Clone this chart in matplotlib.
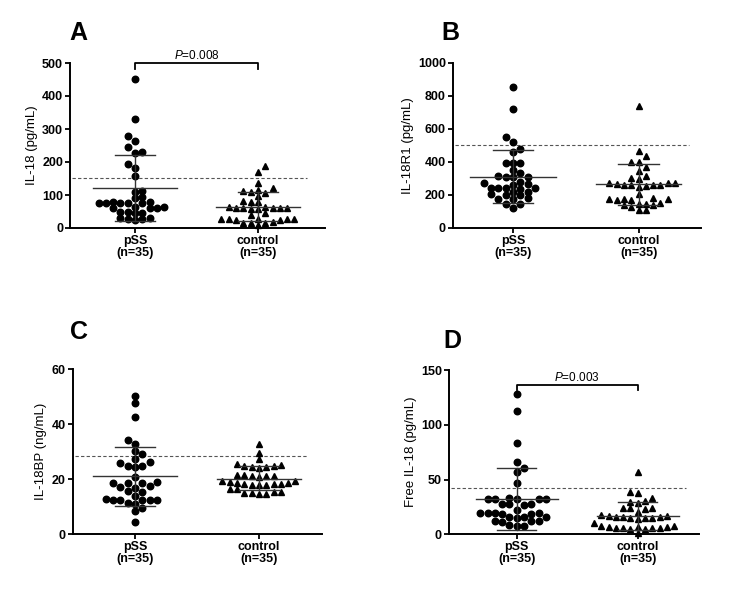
import numpy as np
import matplotlib.pyplot as plt

plt.rcParams['font.family'] = ['Liberation Sans', 'DejaVu Sans']
plt.rcParams['mathtext.fontset'] = 'custom'
plt.rcParams['mathtext.it'] = 'Liberation Sans:italic'
plt.rcParams['mathtext.rm'] = 'Liberation Sans'

groups = ['pSS\n(n=35)', 'control\n(n=35)']

# A: IL-18 (pg/mL)
il18_pss = [453, 330, 279, 265, 245, 229, 227, 193, 182, 158, 113, 110, 94, 90,
            80, 76, 76, 75, 75, 76, 80, 63, 62, 61, 64, 60,
            47, 46, 48, 45, 29, 27, 25, 26, 30]
il18_ctrl = [188, 170, 137, 122, 116, 113, 108, 106, 97, 82, 80, 78,
             63, 62, 61, 60, 60, 59, 58, 62, 64, 45, 40,
             27, 26, 26, 25, 27, 26, 25, 17, 15, 14, 16, 8]
il18_mean = [120, 65]
il18_upper = [220, 110]
il18_lower = [20, 20]
il18_cutoff = 152

# B: IL-18R1 (pg/mL)
r1_pss = [855, 718, 549, 518, 476, 457, 396, 396, 396, 352, 330, 310, 312, 308, 306,
          278, 275, 264, 262, 244, 242, 240, 240, 238, 220, 218, 205, 200, 200,
          180, 178, 175, 148, 145, 120]
r1_ctrl = [738, 466, 437, 402, 400, 372, 345, 312, 300, 298, 275, 272, 270,
           265, 262, 260, 258, 258, 256, 250, 204, 180, 178, 176, 175, 172, 168,
           150, 148, 145, 142, 140, 130, 108, 106]
r1_mean = [310, 265]
r1_upper = [470, 388]
r1_lower = [150, 140]
r1_cutoff = 500

# C: IL-18BP (ng/mL)
bp_pss = [50.2, 47.6, 42.5, 34.3, 33.0, 30.4, 29.3, 27.4, 26.2, 25.8, 24.8, 24.6, 24.7,
          21.0, 18.9, 18.7, 18.6, 18.8, 17.5, 17.2, 17.0, 15.6, 15.4, 14.0,
          12.6, 12.5, 12.4, 12.6, 12.3, 12.8, 11.2, 10.9, 9.6, 8.4, 4.4]
bp_ctrl = [32.7, 29.7, 27.3, 25.5, 24.9, 24.6, 24.3, 24.2, 25.0, 25.3,
           21.4, 21.2, 21.0, 21.2, 21.3, 21.5, 19.4, 18.8, 18.4, 18.1, 18.0, 18.0,
           18.2, 18.4, 18.7, 18.9, 19.4, 16.5, 16.6, 15.3, 15.0, 14.7, 14.8, 15.1, 15.4]
bp_mean = [21.1, 20.2]
bp_upper = [31.9, 25.0]
bp_lower = [10.3, 16.1]
bp_cutoff = 28.3

# D: Free IL-18 (pg/mL)
free_pss = [128.5, 112.8, 83.5, 66.3, 60.2, 56.5, 47.1, 33.5, 32.5, 32.3, 32.1, 32.4, 32.6,
            28.0, 27.5, 27.0, 27.8, 22.5, 19.6, 19.0, 18.8, 19.2, 19.8, 18.6,
            15.6, 15.2, 15.4, 15.8, 12.2, 12.0, 11.6, 11.9, 8.2, 7.5, 7.8]
free_ctrl = [56.5, 39.0, 37.5, 32.8, 29.8, 29.0, 30.2, 24.0, 23.5, 24.2, 23.8, 20.0,
             17.2, 16.0, 15.5, 15.0, 16.5, 15.2, 14.8, 16.2, 17.0, 14.0,
             7.5, 7.0, 6.5, 5.8, 5.5, 5.0, 5.2, 5.6, 6.0, 6.8, 7.6, 1.0, 10.5]
free_mean = [32.2, 16.7]
free_upper = [60.2, 29.2]
free_lower = [4.0, 4.0]
free_cutoff = 42


def swarm_x(ax, x0, vals, step_px=7.3, gap_px=6.2):
    # column-style scatter like GraphPad: same column only if far enough apart
    pts = ax.transData.transform([(x0, v) for v in vals])
    ys = pts[:, 1]
    px_per_unit = ax.transData.transform((1, 0))[0] - ax.transData.transform((0, 0))[0]
    cols = np.zeros(len(vals))
    placed = []
    flip = 1
    for i in np.argsort(vals):
        def free(c):
            return all(not (pc == c and abs(py - ys[i]) < gap_px) for pc, py in placed)
        if free(0):
            c = 0
        else:
            k = 1
            while True:
                ok_r, ok_l = free(k), free(-k)
                if ok_r and ok_l:
                    near_r = sum(1 for pc, py in placed if pc > 0 and abs(py - ys[i]) < gap_px)
                    near_l = sum(1 for pc, py in placed if pc < 0 and abs(py - ys[i]) < gap_px)
                    if near_r < near_l:
                        c = k
                    elif near_l < near_r:
                        c = -k
                    else:
                        c = k * flip
                        flip = -flip
                    break
                if ok_r:
                    c = k
                    break
                if ok_l:
                    c = -k
                    break
                k += 1
        placed.append((c, ys[i]))
        cols[i] = c
    return x0 + cols * step_px / px_per_unit


def draw_panel(ax, pss, ctrl, mean, upper, lower, cutoff, ylabel, yticks, xlim):
    ax.set_xlim(*xlim)
    ax.set_ylim(0, yticks[-1])
    for i, (vals, mk, ms) in enumerate([(pss, 'o', 4.7), (ctrl, '^', 5.0)]):
        x0 = i + 1
        xs = swarm_x(ax, x0, vals)
        ax.plot(xs, vals, linestyle='none', marker=mk, ms=ms, color='black',
                clip_on=False, zorder=3)
        ax.plot([x0 - 0.34, x0 + 0.34], [mean[i]] * 2, color='#333333', lw=1, zorder=4)
        ax.plot([x0 - 0.16, x0 + 0.16], [upper[i]] * 2, color='#333333', lw=1, zorder=4)
        ax.plot([x0 - 0.16, x0 + 0.16], [lower[i]] * 2, color='#333333', lw=1, zorder=4)
        ax.plot([x0, x0], [lower[i], upper[i]], color='#333333', lw=1, zorder=4)
    ax.plot([xlim[0] + 0.02, 2.4], [cutoff] * 2, linestyle=(0, (3, 2)),
            color='#555555', lw=0.8, zorder=2)
    ax.set_xticks([1, 2])
    ax.set_xticklabels(groups, fontweight='bold', fontsize=9, linespacing=1.0)
    ax.set_yticks(yticks)
    ax.set_yticklabels([str(t) for t in yticks], fontweight='bold', fontsize=9)
    ax.set_ylabel(ylabel, fontsize=9.5, labelpad=3)
    ax.spines['top'].set_visible(False)
    ax.spines['right'].set_visible(False)
    for s in ['left', 'bottom']:
        ax.spines[s].set_linewidth(1.4)
    ax.tick_params(width=1.3, length=3.5, pad=1.5)


def bracket(ax, top, drop, text):
    ax.plot([1, 1, 2, 2], [top - drop, top, top, top - drop], color='black',
            lw=1.3, clip_on=False)
    ax.annotate(text, (1.5, top), xytext=(0, 0.5), textcoords='offset points',
                ha='center', va='bottom', fontsize=8.5, annotation_clip=False)


fig = plt.figure(figsize=(7.52, 6.0), dpi=100)
ax_a = fig.add_axes([0.0931, 0.62, 0.3391, 0.275])
ax_b = fig.add_axes([0.602, 0.62, 0.330, 0.2755])
ax_c = fig.add_axes([0.0967, 0.1095, 0.331, 0.275])
ax_d = fig.add_axes([0.5967, 0.1095, 0.3324, 0.2738])

draw_panel(ax_a, il18_pss, il18_ctrl, il18_mean, il18_upper, il18_lower, il18_cutoff,
           'IL-18 (pg/mL)', [0, 100, 200, 300, 400, 500], (0.471, 2.546))
draw_panel(ax_b, r1_pss, r1_ctrl, r1_mean, r1_upper, r1_lower, r1_cutoff,
           'IL-18R1 (pg/mL)', [0, 200, 400, 600, 800, 1000], (0.52, 2.496))
draw_panel(ax_c, bp_pss, bp_ctrl, bp_mean, bp_upper, bp_lower, bp_cutoff,
           'IL-18BP (ng/mL)', [0, 20, 40, 60], (0.498, 2.506))
draw_panel(ax_d, free_pss, free_ctrl, free_mean, free_upper, free_lower, free_cutoff,
           'Free IL-18 (pg/mL)', [0, 50, 100, 150], (0.438, 2.504))

bracket(ax_a, 500, 18, r'$\mathit{P}$=0.008')
bracket(ax_d, 136.6, 5, r'$\mathit{P}$=0.003')

for label, (x, y) in zip('ABCD', [(78, 33), (450, 33), (79, 332), (452, 341)]):
    fig.text(x / 752, 1 - y / 600, label, fontsize=18, fontweight='bold',
             ha='center', va='center')

fig.savefig('out.png', dpi=100)
